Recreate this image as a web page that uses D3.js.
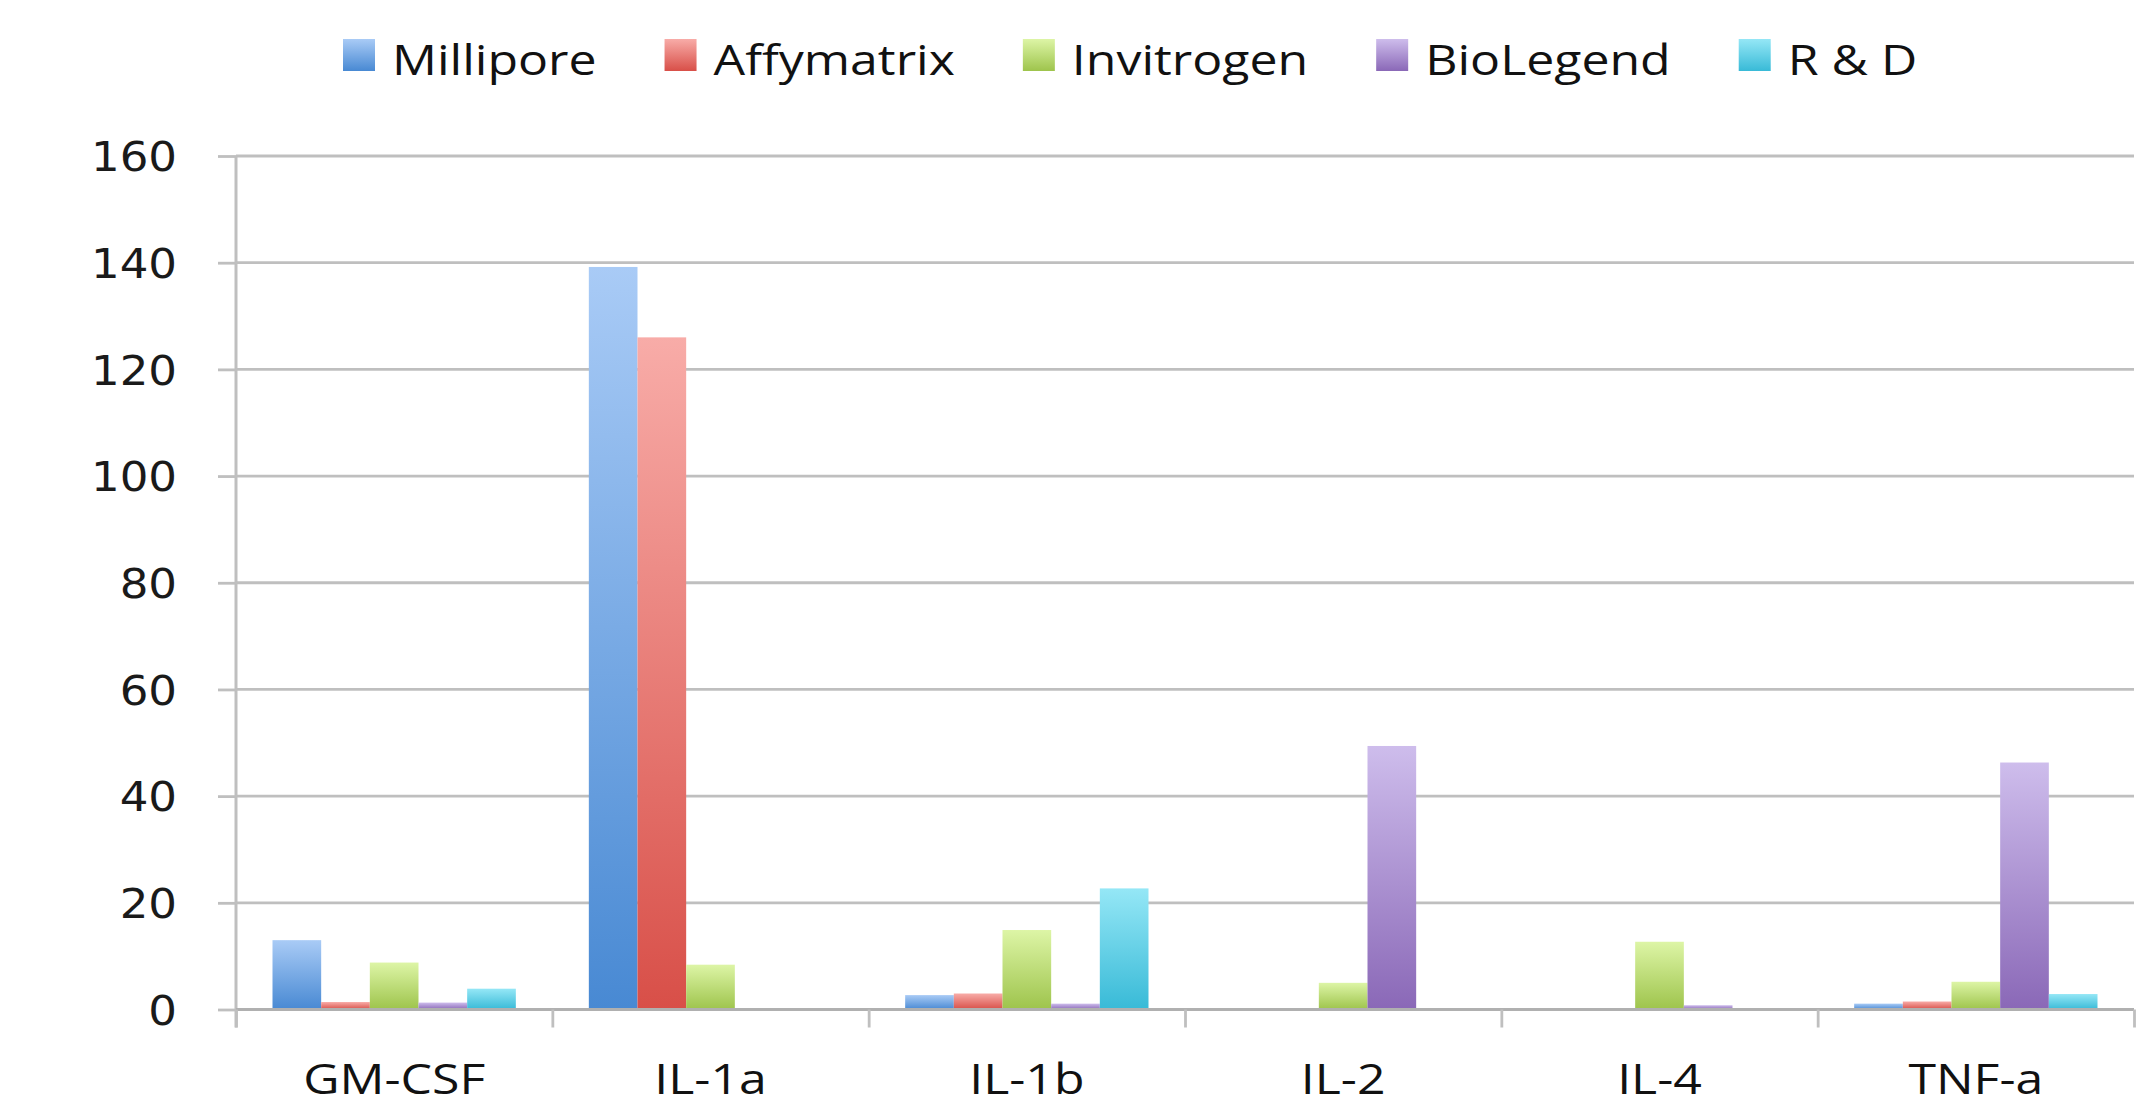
<!DOCTYPE html>
<html>
<head>
<meta charset="utf-8">
<script src="https://cdn.jsdelivr.net/npm/d3@7"></script>
<style>
  html, body { margin: 0; padding: 0; background: #ffffff; }
  svg { display: block; }
</style>
</head>
<body>
<svg id="chart" width="2149" height="1107"></svg>
<script>
// ---- Data ----
const categories = ["GM-CSF", "IL-1a", "IL-1b", "IL-2", "IL-4", "TNF-a"];
const seriesNames = ["Millipore", "Affymatrix", "Invitrogen", "BioLegend", "R & D"];
const millipore  = [13.0, 139.2, 2.7, 0, 0, 1.1];
const affymatrix = [1.4, 126.0, 3.0, 0, 0, 1.5];
const invitrogen = [8.8, 8.4, 14.9, 5.0, 12.7, 5.2];
const biolegend  = [1.3, 0, 1.1, 49.4, 0.8, 46.3];
const rnd        = [3.9, 0, 22.7, 0, 0, 2.9];
const yTicks = [0, 20, 40, 60, 80, 100, 120, 140, 160];

const seriesValues = [millipore, affymatrix, invitrogen, biolegend, rnd];
const gradTop    = ["#a9cbf6", "#f8aca8", "#ddf5a6", "#cebdec", "#95e7f6"];
const gradBottom = ["#4889d3", "#d84f48", "#9ec44c", "#8a68b7", "#38bad7"];

// ---- Layout ----
const svg = d3.select("#chart");
const margin = { left: 236, right: 15, top: 156, bottom: 97.5 };
const W = 2149, H = 1107;
const plotW = W - margin.left - margin.right;
const plotH = H - margin.top - margin.bottom;
const textSX = 1.19;   // horizontal stretch of the reference text
const numSX = 1.1;

const g = svg.append("g").attr("transform", `translate(${margin.left},${margin.top})`);

const x0 = d3.scaleBand().domain(categories).range([0, plotW]).paddingInner(0).paddingOuter(0);
const x1 = d3.scaleBand().domain(seriesNames).range([0, x0.bandwidth()]).paddingInner(0).paddingOuter(0.75);
const y = d3.scaleLinear().domain([0, 160]).range([plotH, 0]);
const xEdge = d3.scaleLinear().domain([0, categories.length]).range([0, plotW]);

// gradients
const defs = svg.append("defs");
seriesNames.forEach((s, i) => {
  const lg = defs.append("linearGradient").attr("id", "grad" + i)
    .attr("x1", 0).attr("y1", 0).attr("x2", 0).attr("y2", 1);
  lg.append("stop").attr("offset", "0%").attr("stop-color", gradTop[i]);
  lg.append("stop").attr("offset", "100%").attr("stop-color", gradBottom[i]);
});

const gridColor = "#bfbfbf";

// gridlines
g.append("g").selectAll("line.grid").data(yTicks.filter(d => d > 0)).join("line")
  .attr("x1", 0).attr("x2", plotW)
  .attr("y1", d => y(d)).attr("y2", d => y(d))
  .attr("stroke", gridColor).attr("stroke-width", 2.8);

// y axis
const yAxis = g.append("g").call(d3.axisLeft(y).tickValues(yTicks).tickSize(18).tickPadding(0).tickFormat(d3.format("d")));
yAxis.select(".domain").attr("stroke", gridColor).attr("stroke-width", 3).attr("d", `M0,${plotH + 18}V0`);
yAxis.selectAll(".tick line").attr("stroke", gridColor).attr("stroke-width", 2.8);
yAxis.selectAll(".tick text")
  .attr("font-family", "'DejaVu Sans', Verdana, sans-serif")
  .attr("font-size", 41)
  .attr("fill", "#1a1a1a")
  .attr("x", -59 / numSX)
  .attr("dy", "0.36em")
  .attr("transform", `scale(${numSX},1)`);

// bars
const groups = g.append("g").selectAll("g.cat").data(categories).join("g")
  .attr("transform", d => `translate(${x0(d)},0)`);
groups.selectAll("rect").data((c, ci) => seriesNames.map((s, si) => ({ s, si, v: seriesValues[si][ci] })))
  .join("rect")
  .attr("x", d => x1(d.s))
  .attr("width", x1.bandwidth())
  .attr("y", d => y(d.v))
  .attr("height", d => y(0) - y(d.v))
  .attr("fill", d => `url(#grad${d.si})`);

// x axis baseline + ticks at category edges
const xAxis = g.append("g").attr("transform", `translate(0,${plotH})`)
  .call(d3.axisBottom(xEdge).ticks(categories.length).tickSize(18).tickFormat(""));
xAxis.select(".domain").attr("stroke", "#b0b0b0").attr("stroke-width", 3).attr("d", `M0,0H${plotW}`);
xAxis.selectAll(".tick line").attr("stroke", gridColor).attr("stroke-width", 2.8);

// category labels
const xLab = g.append("g").attr("transform", `translate(0,${plotH})`)
  .call(d3.axisBottom(x0).tickSize(0).tickPadding(0));
xLab.select(".domain").remove();
xLab.selectAll(".tick text")
  .attr("font-family", "'Open Sans', sans-serif")
  .attr("font-size", 42)
  .attr("fill", "#111")
  .attr("y", 85)
  .attr("dy", 0)
  .attr("transform", `scale(${textSX},1)`);

// legend
const legend = svg.append("g").attr("transform", "translate(343,0)");
let lx = 0;
seriesNames.forEach((s, i) => {
  const item = legend.append("g").attr("transform", `translate(${lx},0)`);
  item.append("rect").attr("x", 0).attr("y", 39).attr("width", 32).attr("height", 32)
    .attr("fill", `url(#grad${i})`);
  const t = item.append("text")
    .attr("x", 49 / textSX).attr("y", 75)
    .attr("transform", `scale(${textSX},1)`)
    .attr("font-family", "'Open Sans', sans-serif")
    .attr("font-size", 42)
    .attr("fill", "#111")
    .text(s);
  const w = t.node().getComputedTextLength() * textSX;
  lx += 49 + w + 68;
});
</script>
</body>
</html>
